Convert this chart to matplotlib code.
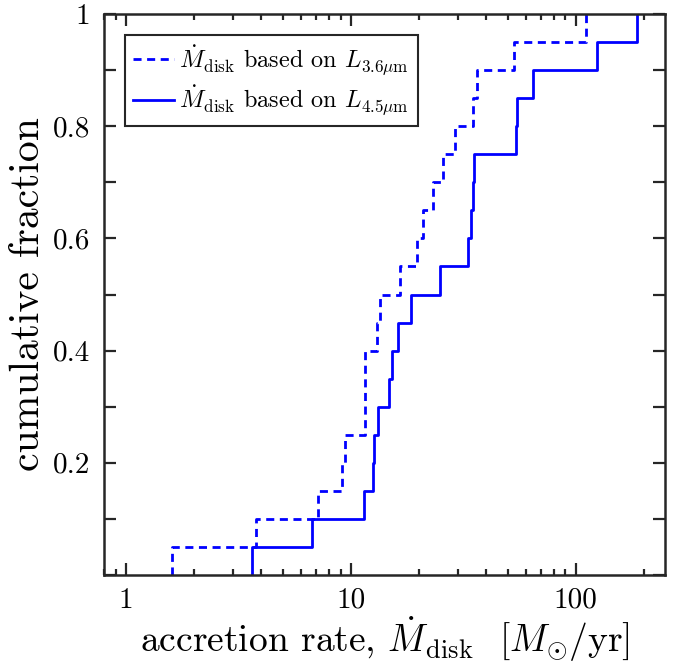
import numpy as np
import matplotlib
matplotlib.use("Agg")
import matplotlib.pyplot as plt

# accretion rates (20 objects each)
mdot_36 = [1.60, 3.78, 7.18, 9.14, 9.42, 11.58, 11.58, 11.58, 13.05, 13.5,
           16.6, 19.7, 20.9, 23.3, 25.8, 29.1, 34.8, 36.3, 53.3, 111.1]
mdot_45 = [3.62, 6.73, 11.41, 12.5, 12.7, 13.27, 14.8, 15.2, 16.28, 18.5,
           24.8, 33.3, 34.2, 35.1, 35.3, 54.5, 55.0, 64.3, 124.0, 187.8]

label_36 = r'$\dot{M}_{\rm disk}$ based on $L_{3.6\mu{\rm m}}$'
label_45 = r'$\dot{M}_{\rm disk}$ based on $L_{4.5\mu{\rm m}}$'

xticks = [1, 10, 100]
xtick_labels = ['1', '10', '100']
yticks = np.arange(0, 1.01, 0.1)
ytick_labels = ['', '', '0.2', '', '0.4', '', '0.6', '', '0.8', '', '1']

plt.rcParams['font.family'] = 'serif'
plt.rcParams['font.serif'] = ['cmr10', 'DejaVu Serif']
plt.rcParams['mathtext.fontset'] = 'cm'
plt.rcParams['axes.formatter.use_mathtext'] = True


def ecdf(vals):
    v = np.sort(np.asarray(vals, dtype=float))
    n = len(v)
    xs = np.r_[v[0], v]
    ys = np.r_[0.0, np.arange(1, n + 1) / n]
    return xs, ys


fig = plt.figure(figsize=(6.78, 6.64), dpi=100)
ax = fig.add_axes([0.1534, 0.134, 0.8279, 0.8449])

x1, y1 = ecdf(mdot_36)
x2, y2 = ecdf(mdot_45)
ax.step(x1, y1, where='post', color='#0000ff', lw=2.0, ls='--',
        dashes=(2.9, 2.0), label=label_36)
ax.step(x2, y2, where='post', color='#0000ff', lw=2.0, label=label_45)

ax.set_xscale('log')
ax.set_xlim(0.8, 250)
ax.set_ylim(0, 1)
ax.set_xticks(xticks)
ax.set_xticklabels(xtick_labels)
ax.set_yticks(yticks)
ax.set_yticklabels(ytick_labels)

for s in ax.spines.values():
    s.set_linewidth(1.8)
    s.set_color('#262626')
ax.tick_params(which='both', direction='in', top=True, right=True,
               color='#262626', width=1.6, labelsize=21)
ax.tick_params(axis='x', pad=9)
ax.tick_params(axis='y', pad=10)
ax.tick_params(which='major', length=8.5)
ax.tick_params(which='minor', length=4.5)

ax.set_xlabel(r'accretion rate, $\dot{M}_{\rm disk}$  $[M_{\odot}/{\rm yr}]$',
              fontsize=27, labelpad=0)
ax.set_ylabel('cumulative fraction', fontsize=30, labelpad=4)

leg = ax.legend(loc='upper left', fontsize=17.5, fancybox=False, framealpha=1,
                edgecolor='#262626', handlelength=1.7, handletextpad=0.2,
                borderpad=0.35, labelspacing=0.3, borderaxespad=0.85)
leg.get_frame().set_linewidth(1.5)

fig.savefig('out.png', dpi=100)
